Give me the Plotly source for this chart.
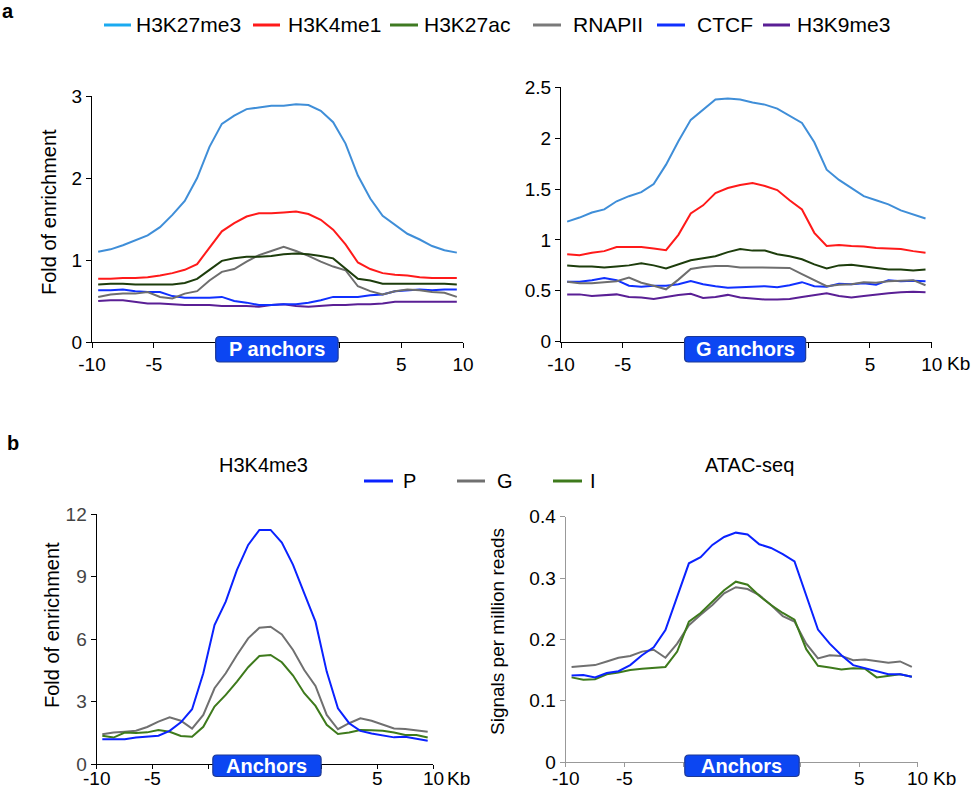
import plotly.graph_objects as go

# ---------------- data ----------------
# 30 bins: 10 bins left flank (-10..0 kb), 10 bins anchor, 10 bins right flank (0..10 kb)
bins = list(range(30))

marks_a = ["H3K27me3", "H3K4me1", "H3K27ac", "RNAPII", "CTCF", "H3K9me3"]

p_H3K27me3 = [1.10, 1.13, 1.18, 1.24, 1.30, 1.40, 1.55, 1.72, 2.00, 2.38, 2.66, 2.76, 2.84, 2.86, 2.88,
              2.88, 2.90, 2.89, 2.82, 2.68, 2.42, 2.03, 1.75, 1.54, 1.43, 1.32, 1.25, 1.17, 1.12, 1.09]
p_H3K4me1 = [0.77, 0.77, 0.78, 0.78, 0.79, 0.81, 0.84, 0.88, 0.95, 1.15, 1.35, 1.45, 1.53, 1.57, 1.57,
             1.58, 1.59, 1.56, 1.49, 1.37, 1.19, 0.97, 0.89, 0.84, 0.82, 0.81, 0.79, 0.78, 0.78, 0.78]
p_H3K27ac = [0.70, 0.71, 0.71, 0.70, 0.70, 0.70, 0.70, 0.72, 0.77, 0.88, 0.99, 1.02, 1.04, 1.04, 1.05,
             1.07, 1.08, 1.07, 1.05, 1.02, 0.90, 0.77, 0.75, 0.71, 0.71, 0.71, 0.71, 0.71, 0.71, 0.70]
p_RNAPII = [0.55, 0.58, 0.59, 0.59, 0.61, 0.55, 0.53, 0.59, 0.62, 0.75, 0.855, 0.89, 0.98, 1.06, 1.11,
            1.16, 1.11, 1.05, 0.98, 0.92, 0.875, 0.68, 0.62, 0.58, 0.62, 0.64, 0.63, 0.61, 0.60, 0.55]
p_CTCF = [0.63, 0.63, 0.64, 0.62, 0.61, 0.61, 0.56, 0.54, 0.54, 0.54, 0.55, 0.50, 0.48, 0.45, 0.45,
          0.46, 0.46, 0.48, 0.51, 0.55, 0.55, 0.55, 0.57, 0.58, 0.62, 0.63, 0.64, 0.63, 0.64, 0.64]
p_H3K9me3 = [0.50, 0.51, 0.51, 0.49, 0.47, 0.47, 0.46, 0.45, 0.45, 0.45, 0.44, 0.44, 0.44, 0.43, 0.45,
             0.46, 0.44, 0.43, 0.44, 0.45, 0.45, 0.46, 0.46, 0.47, 0.49, 0.49, 0.49, 0.49, 0.49, 0.49]

g_H3K27me3 = [1.18, 1.22, 1.27, 1.30, 1.38, 1.43, 1.47, 1.55, 1.74, 1.97, 2.18, 2.28, 2.38, 2.39, 2.38,
              2.35, 2.33, 2.29, 2.22, 2.15, 1.96, 1.69, 1.59, 1.51, 1.43, 1.39, 1.35, 1.29, 1.25, 1.21]
g_H3K4me1 = [0.86, 0.85, 0.875, 0.89, 0.93, 0.93, 0.93, 0.915, 0.90, 1.05, 1.26, 1.34, 1.46, 1.51, 1.54,
             1.56, 1.53, 1.49, 1.39, 1.30, 1.07, 0.94, 0.95, 0.94, 0.935, 0.92, 0.915, 0.91, 0.89, 0.875]
g_H3K27ac = [0.75, 0.74, 0.74, 0.73, 0.74, 0.75, 0.77, 0.75, 0.72, 0.76, 0.80, 0.82, 0.84, 0.88, 0.91,
             0.895, 0.895, 0.86, 0.84, 0.81, 0.76, 0.72, 0.75, 0.755, 0.74, 0.72, 0.71, 0.71, 0.70, 0.71]
g_RNAPII = [0.59, 0.575, 0.575, 0.585, 0.595, 0.63, 0.58, 0.55, 0.515, 0.61, 0.715, 0.735, 0.745, 0.745, 0.73,
            0.73, 0.73, 0.73, 0.725, 0.665, 0.605, 0.545, 0.56, 0.565, 0.585, 0.58, 0.595, 0.60, 0.605, 0.555]
g_CTCF = [0.59, 0.59, 0.605, 0.625, 0.605, 0.55, 0.54, 0.55, 0.55, 0.565, 0.595, 0.565, 0.545, 0.53, 0.535,
          0.54, 0.545, 0.535, 0.555, 0.585, 0.545, 0.54, 0.57, 0.565, 0.575, 0.56, 0.605, 0.595, 0.60, 0.595]
g_H3K9me3 = [0.465, 0.465, 0.45, 0.46, 0.465, 0.44, 0.435, 0.42, 0.44, 0.46, 0.47, 0.43, 0.44, 0.46, 0.435,
             0.425, 0.415, 0.415, 0.42, 0.44, 0.46, 0.475, 0.45, 0.435, 0.45, 0.465, 0.475, 0.485, 0.49, 0.485]

groups_b = ["P", "G", "I"]

k4_P = [1.19, 1.19, 1.19, 1.27, 1.31, 1.36, 1.59, 2.00, 2.63, 4.36, 6.68, 7.80, 9.33, 10.53, 11.25,
        11.25, 10.64, 9.57, 8.20, 6.84, 4.44, 2.68, 1.96, 1.59, 1.47, 1.39, 1.28, 1.31, 1.22, 1.12]
k4_G = [1.43, 1.51, 1.55, 1.60, 1.78, 2.04, 2.24, 2.08, 1.70, 2.36, 3.64, 4.36, 5.24, 6.04, 6.55,
        6.60, 6.23, 5.48, 4.52, 3.75, 2.36, 1.67, 1.96, 2.20, 2.08, 1.88, 1.71, 1.68, 1.63, 1.55]
k4_I = [1.36, 1.27, 1.51, 1.49, 1.52, 1.63, 1.55, 1.35, 1.31, 1.79, 2.76, 3.32, 3.96, 4.65, 5.19,
        5.24, 4.89, 4.25, 3.40, 2.79, 1.88, 1.44, 1.51, 1.63, 1.62, 1.60, 1.51, 1.39, 1.39, 1.27]

atac_P = [0.141, 0.142, 0.138, 0.145, 0.148, 0.158, 0.174, 0.187, 0.215, 0.270, 0.324, 0.334, 0.354, 0.367, 0.374,
          0.371, 0.355, 0.349, 0.339, 0.327, 0.272, 0.216, 0.193, 0.174, 0.158, 0.153, 0.148, 0.143, 0.143, 0.139]
atac_G = [0.155, 0.156, 0.158, 0.164, 0.170, 0.173, 0.180, 0.183, 0.170, 0.193, 0.223, 0.240, 0.256, 0.275, 0.285,
          0.282, 0.272, 0.256, 0.238, 0.229, 0.193, 0.169, 0.174, 0.173, 0.166, 0.167, 0.165, 0.162, 0.164, 0.155]
atac_I = [0.138, 0.134, 0.135, 0.143, 0.146, 0.150, 0.152, 0.153, 0.155, 0.180, 0.229, 0.243, 0.261, 0.280, 0.294,
          0.289, 0.271, 0.256, 0.243, 0.232, 0.184, 0.157, 0.154, 0.151, 0.153, 0.152, 0.138, 0.140, 0.143, 0.139]

tick_pos = [0, 5, 10, 20, 25, 30]
tick_text = ["-10", "-5", "", "", "5", "10"]

# ---------------- styles ----------------
FONT = "Liberation Sans, Arial, Helvetica, sans-serif"
W, H = 971, 790
line_cols_a = ["#3f8ed8", "#ff1a1a", "#1d3d0c", "#6e6e6e", "#1030ff", "#5a1f95"]
legend_cols_a = ["#1aaaf0", "#ff1a1a", "#3f7a22", "#7a7a7a", "#1030ff", "#5a1f95"]
cols_b = ["#0a22ff", "#707070", "#3e7a1c"]
BOX_FILL = "#0c46f2"
BOX_EDGE = "#1c3896"

fig = go.Figure()

x_pos = [b + 0.5 for b in bins]


def px_x(p):
    return p / W


def px_y(p):
    return 1 - p / H


panels = [
    # axis suffix, x domain px, y domain px (top, bottom), y range, yticks
    ("", (92, 463), (96, 342), [0, 3], [0, 1, 2, 3], ["0", "1", "2", "3"]),
    ("2", (561, 931.7), (87.3, 341.7), [0, 2.5], [0, 0.5, 1, 1.5, 2, 2.5], ["0", "0.5", "1", "1.5", "2", "2.5"]),
    ("3", (96.7, 433.3), (514.3, 764), [0, 12], [0, 3, 6, 9, 12], ["0", "3", "6", "9", "12"]),
    ("4", (565.7, 917.7), (516.7, 762), [0, 0.4], [0, 0.1, 0.2, 0.3, 0.4], ["0", "0.1", "0.2", "0.3", "0.4"]),
]

axis_cols = ["#000000", "#000000", "#000000", "#999999"]
ytick_cols = ["#000000", "#000000", "#444444", "#000000"]
xtick_len = [5, 5, 4, 4]
# bottom panels: x tick labels drawn as annotations (so they sit a little closer to the axis)
xlabels_native = [True, True, False, False]

annotations = []
shapes = []

layout_axes = {}
for k, (suf, xd, yd, yr, yt, ytt) in enumerate(panels):
    xa = "xaxis" + suf
    ya = "yaxis" + suf
    layout_axes[xa] = dict(
        domain=[px_x(xd[0]), px_x(xd[1])], range=[0, 30], anchor="y" + suf,
        showline=True, linecolor=axis_cols[k], linewidth=1.3, showgrid=False, zeroline=False,
        ticks="outside", ticklen=xtick_len[k], tickwidth=1.3, tickcolor=axis_cols[k],
        tickvals=tick_pos, ticktext=tick_text if xlabels_native[k] else [""] * len(tick_pos),
        automargin=False,
        tickfont=dict(family=FONT, size=19, color="#000000"), fixedrange=True,
    )
    layout_axes[ya] = dict(
        domain=[px_y(yd[1]), px_y(yd[0])], range=yr, anchor="x" + suf,
        showline=True, linecolor=axis_cols[k], linewidth=1.3, showgrid=False, zeroline=False,
        ticks="outside", ticklen=5, tickwidth=1.3, tickcolor=axis_cols[k],
        tickvals=yt, ticktext=ytt, automargin=False,
        tickfont=dict(family=FONT, size=19, color=ytick_cols[k]), fixedrange=True,
    )
    if not xlabels_native[k]:
        for tv, tt in zip(tick_pos, tick_text):
            if tt:
                annotations.append(dict(x=tv, y=px_y(778), xref="x" + suf, yref="paper", text=tt,
                                        showarrow=False, xanchor="center", yanchor="middle",
                                        font=dict(family=FONT, size=19, color="#000000")))

series_p = [p_H3K27me3, p_H3K4me1, p_H3K27ac, p_RNAPII, p_CTCF, p_H3K9me3]
series_g = [g_H3K27me3, g_H3K4me1, g_H3K27ac, g_RNAPII, g_CTCF, g_H3K9me3]
order = [5, 4, 3, 2, 1, 0]
for idx in order:
    fig.add_trace(go.Scatter(x=x_pos, y=series_p[idx], mode="lines", name=marks_a[idx],
                             line=dict(color=line_cols_a[idx], width=2), showlegend=False,
                             xaxis="x", yaxis="y"))
    fig.add_trace(go.Scatter(x=x_pos, y=series_g[idx], mode="lines", name=marks_a[idx],
                             line=dict(color=line_cols_a[idx], width=2), showlegend=False,
                             xaxis="x2", yaxis="y2"))

k4 = [k4_P, k4_G, k4_I]
atac = [atac_P, atac_G, atac_I]
for idx in [1, 2, 0]:
    fig.add_trace(go.Scatter(x=x_pos, y=k4[idx], mode="lines", name=groups_b[idx],
                             line=dict(color=cols_b[idx], width=2), showlegend=False,
                             xaxis="x3", yaxis="y3"))
    fig.add_trace(go.Scatter(x=x_pos, y=atac[idx], mode="lines", name=groups_b[idx],
                             line=dict(color=cols_b[idx], width=2), showlegend=False,
                             xaxis="x4", yaxis="y4"))


def rounded(x0, x1, y0, y1, rx, ry):
    return (f"M {x0+rx},{y0} L {x1-rx},{y0} Q {x1},{y0} {x1},{y0+ry} "
            f"L {x1},{y1-ry} Q {x1},{y1} {x1-rx},{y1} L {x0+rx},{y1} "
            f"Q {x0},{y1} {x0},{y1-ry} L {x0},{y0+ry} Q {x0},{y0} {x0+rx},{y0} Z")


# anchor boxes: (xref, x0, x1, top px, bottom px, px per unit, label)
boxes = [
    ("x", 10.0, 19.9, 336.5, 362, 12.37, "P anchors"),
    ("x2", 10.0, 19.8, 336.5, 362, 12.36, "G anchors"),
    ("x3", 10.35, 20.0, 755, 776.5, 11.22, "Anchors"),
    ("x4", 10.15, 19.9, 755, 776.5, 11.73, "Anchors"),
]
for xr, x0, x1, t, b, ppu, lab in boxes:
    y0 = px_y(b)
    y1 = px_y(t)
    shapes.append(dict(type="path", xref=xr, yref="paper",
                       path=rounded(x0, x1, y0, y1, 4 / ppu, 4 / H),
                       fillcolor=BOX_FILL, line=dict(color=BOX_EDGE, width=1.2), layer="above"))
    annotations.append(dict(x=(x0 + x1) / 2, y=(y0 + y1) / 2, xref=xr, yref="paper",
                            text=f"<b>{lab}</b>", showarrow=False, xanchor="center", yanchor="middle",
                            font=dict(family=FONT, size=20, color="white")))

# "Kb" unit labels
for xpx, ypx in [(945, 363), (445, 778), (931, 778)]:
    annotations.append(dict(x=px_x(xpx), y=px_y(ypx), xref="paper", yref="paper", text="Kb",
                            showarrow=False, xanchor="left", yanchor="middle",
                            font=dict(family=FONT, size=19, color="#000000")))

# axis titles
for xpx, ypx, txt in [(49, 212, "Fold of enrichment"), (52, 625, "Fold of enrichment"),
                      (497, 632, "Signals per million reads")]:
    annotations.append(dict(x=px_x(xpx), y=px_y(ypx), xref="paper", yref="paper", text=txt,
                            showarrow=False, textangle=-90, xanchor="center", yanchor="middle",
                            font=dict(family=FONT, size=20 if "Fold" in txt else 19, color="#000000")))

# panel titles
for xpx, txt in [(263, "H3K4me3"), (749, "ATAC-seq")]:
    annotations.append(dict(x=px_x(xpx), y=px_y(465), xref="paper", yref="paper", text=txt,
                            showarrow=False, xanchor="center", yanchor="middle",
                            font=dict(family=FONT, size=20, color="#000000")))

# panel letters
annotations.append(dict(x=0, y=px_y(11), xref="paper", yref="paper", text="<b>a</b>", showarrow=False,
                        xanchor="left", yanchor="middle", font=dict(family=FONT, size=20, color="#000000")))
annotations.append(dict(x=px_x(5), y=px_y(443), xref="paper", yref="paper", text="<b>b</b>", showarrow=False,
                        xanchor="left", yanchor="middle", font=dict(family=FONT, size=20, color="#000000")))

# custom legend (top)
leg_a = [(104, 131, 134), (253, 280, 286), (390, 418, 422), (533, 561, 571), (657, 685, 695), (763, 790, 795)]
for (l0, l1, tx), name, col in zip(leg_a, marks_a, legend_cols_a):
    shapes.append(dict(type="line", xref="paper", yref="paper", x0=px_x(l0), x1=px_x(l1),
                       y0=px_y(25), y1=px_y(25), line=dict(color=col, width=3)))
    annotations.append(dict(x=px_x(tx), y=px_y(25), xref="paper", yref="paper", text=name, showarrow=False,
                            xanchor="left", yanchor="middle", font=dict(family=FONT, size=21, color="#000000")))

# custom legend (bottom)
leg_b = [(364, 393, 401), (457, 485, 495), (553, 582, 588)]
for (l0, l1, tx), name, col in zip(leg_b, groups_b, cols_b):
    shapes.append(dict(type="line", xref="paper", yref="paper", x0=px_x(l0), x1=px_x(l1),
                       y0=px_y(481), y1=px_y(481), line=dict(color=col, width=3)))
    annotations.append(dict(x=px_x(tx), y=px_y(481), xref="paper", yref="paper", text=name, showarrow=False,
                            xanchor="left", yanchor="middle", font=dict(family=FONT, size=20, color="#000000")))

fig.update_layout(
    width=W, height=H, margin=dict(l=0, r=0, t=0, b=0),
    paper_bgcolor="white", plot_bgcolor="white", showlegend=False,
    font=dict(family=FONT, color="#000000"),
    shapes=shapes, annotations=annotations, **layout_axes,
)

fig.write_html("out.html", config={"displayModeBar": False},
               post_script="document.body.style.margin='0px';document.body.style.padding='0px';"
                           "document.body.style.overflow='hidden';")
